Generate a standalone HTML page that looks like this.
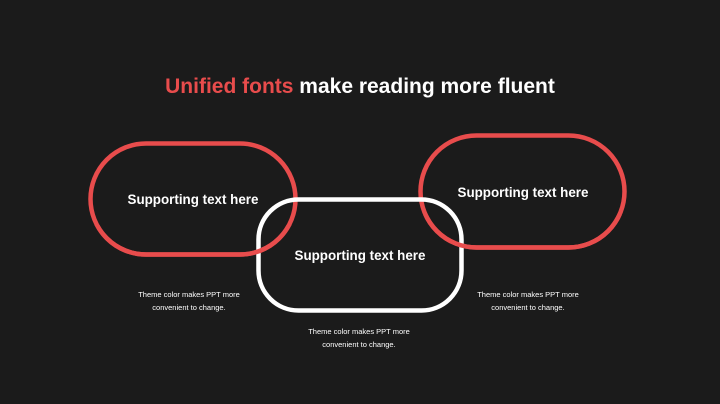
<!DOCTYPE html>
<html><head><meta charset="utf-8"><style>
html,body{margin:0;padding:0;background:#1b1b1b;}
body{width:720px;height:404px;overflow:hidden;}
svg{display:block;font-family:"Liberation Sans",Arial,sans-serif;}
</style></head><body>
<svg width="720" height="404" viewBox="0 0 720 404">
<defs>
<clipPath id="lowL"><rect x="0" y="225" width="720" height="200"/></clipPath>
<clipPath id="lowR"><rect x="0" y="215" width="720" height="200"/></clipPath>
</defs>
<rect width="720" height="404" fill="#1b1b1b"/>
<text x="360" y="93" text-anchor="middle" font-size="21" font-weight="bold" fill="#ffffff"><tspan fill="#e84c4c">Unified fonts</tspan> make reading more fluent</text>
<g fill="none" stroke-width="4.5">
<rect x="90.5" y="143.5" width="205" height="111" rx="55.5" stroke="#e84c4c"/>
<rect x="420.5" y="135.5" width="204" height="112" rx="56" stroke="#e84c4c"/>
<rect x="258.5" y="199.5" width="203" height="111" rx="40" stroke="#ffffff"/>
<rect x="90.5" y="143.5" width="205" height="111" rx="55.5" stroke="#e84c4c" clip-path="url(#lowL)"/>
<rect x="420.5" y="135.5" width="204" height="112" rx="56" stroke="#e84c4c" clip-path="url(#lowR)"/>
</g>
<g font-size="13.4" font-weight="bold" fill="#fff" text-anchor="middle">
<text x="193" y="204">Supporting text here</text>
<text x="360" y="260">Supporting text here</text>
<text x="523" y="197">Supporting text here</text>
</g>
<g font-size="7.5" fill="#fff" text-anchor="middle">
<text x="189" y="297">Theme  color makes PPT more</text>
<text x="189" y="310">convenient to change.</text>
<text x="359" y="334">Theme  color makes PPT more</text>
<text x="359" y="347">convenient to change.</text>
<text x="528" y="297">Theme  color makes PPT more</text>
<text x="528" y="310">convenient to change.</text>
</g>
</svg>
</body></html>
